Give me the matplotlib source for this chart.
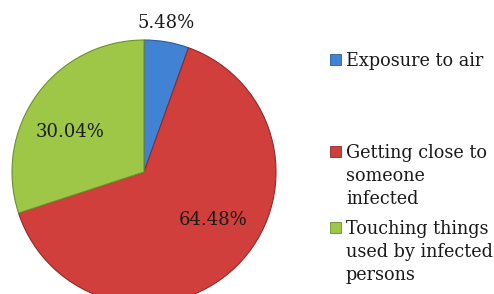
import matplotlib
matplotlib.use("Agg")
import matplotlib.pyplot as plt
from matplotlib.patches import Rectangle

labels = ["Exposure to air", "Getting close to\nsomeone\ninfected",
          "Touching things\nused by infected\npersons"]
values = [5.48, 64.48, 30.04]
colors = ["#4282D4", "#D03F3C", "#9EC647"]
edges = ["#2B5C9E", "#8E2A28", "#6F8F2E"]


def main():
    plt.rcParams['font.family'] = ['DejaVu Serif']
    fig = plt.figure(figsize=(4.94, 2.94), dpi=100)
    W, H = 494.0, 294.0
    cx, cy, r = 144, 122, 132
    ax = fig.add_axes([(cx - r) / W, (cy - r) / H, 2 * r / W, 2 * r / H])

    wedges, texts = ax.pie(values, colors=colors, startangle=90, counterclock=False,
                           radius=1, wedgeprops={'linewidth': 0.8})
    ax.set_xlim(-1, 1)
    ax.set_ylim(-1, 1)
    ax.axis('off')
    for w, e in zip(wedges, edges):
        w.set_edgecolor(e)
        w.set_clip_on(False)

    # percentage labels
    lab_pos = [(0.17, 1.13), (0.52, -0.36), (-0.56, 0.30)]
    for v, (x, y) in zip(values, lab_pos):
        ax.text(x, y, "%.2f%%" % v, ha='center', va='center', fontsize=13,
                color='#1a1a1a', clip_on=False)

    # legend
    leg_y = [66, 158, 234]
    for lab, c, e, y in zip(labels, colors, edges, leg_y):
        fig.patches.append(Rectangle((330 / W, 1 - (y - 1) / H), 11 / W, 11 / H,
                                     transform=fig.transFigure, facecolor=c,
                                     edgecolor=e, linewidth=0.6))
        fig.text(346 / W, 1 - (y - 14) / H, lab, ha='left', va='top', fontsize=12.7,
                 linespacing=1.35, color='#1a1a1a')

    fig.savefig("out.png", dpi=100)


if __name__ == "__main__":
    main()
